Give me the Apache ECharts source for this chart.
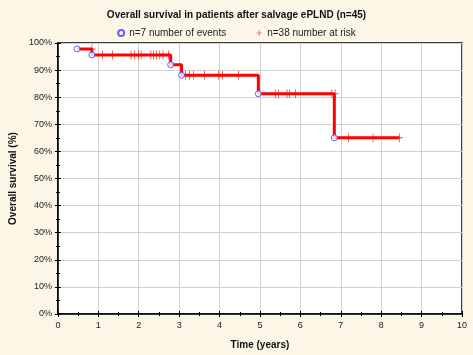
<!DOCTYPE html>
<html>
<head>
<meta charset="utf-8">
<script src="https://cdn.jsdelivr.net/npm/echarts@6/dist/echarts.min.js"></script>
<style>
  html, body { margin: 0; padding: 0; background: #fbf6e6; }
  #km { width: 473px; height: 355px; }
</style>
</head>
<body>
<div id="km"></div>
<script>
// survival step curve (time in years, survival in %)
var curveTimes = [0.47, 0.84, 2.79, 3.06, 4.96, 6.84, 8.45];
var curveSurv  = [97.8, 95.6, 92.0, 88.1, 81.3, 65.0, 65.0];

// events (open circles)
var eventTimes = [0.47, 0.84, 2.79, 3.06, 4.96, 6.84];
var eventSurv  = [97.8, 95.6, 92.0, 88.1, 81.3, 65.0];

// censored patients (crosses)
var censorTimes = [0.84,
  1.10, 1.35, 1.81, 1.90, 1.99, 2.06, 2.30, 2.37, 2.44, 2.52, 2.60, 2.74,
  3.16, 3.26, 3.36, 3.63, 3.98, 4.07, 4.47,
  5.38, 5.46, 5.67, 5.73, 5.88, 6.78, 6.86,
  7.19, 7.80, 8.45];
var censorSurv = [97.8,
  95.6, 95.6, 95.6, 95.6, 95.6, 95.6, 95.6, 95.6, 95.6, 95.6, 95.6, 95.6,
  88.1, 88.1, 88.1, 88.1, 88.1, 88.1, 88.1,
  81.3, 81.3, 81.3, 81.3, 81.3, 81.3, 81.3,
  65.0, 65.0, 65.0];

var titleText = 'Overall survival in patients after salvage ePLND (n=45)';
var eventName = 'n=7 number of events';
var censorName = 'n=38 number at risk';

function zip(a, b) {
  return a.map(function (v, i) { return [v, b[i]]; });
}

var crossPath = 'path://M4,0 H5 V4 H9 V5 H5 V9 H4 V5 H0 V4 H4 Z';

var chart = echarts.init(document.getElementById('km'), null, { renderer: 'canvas' });

// small inward ticks on every side of the box
var boxTick = { show: true, inside: true, length: 3, lineStyle: { color: '#000', width: 1 } };
var boxMinor = { show: true, splitNumber: 2, length: 2, lineStyle: { color: '#000', width: 1 } };

var option = {
  backgroundColor: '#fbf6e6',
  animation: false,
  textStyle: { fontFamily: 'Liberation Sans, Arial, sans-serif' },
  title: {
    text: titleText,
    left: 'center',
    top: 5,
    textStyle: { fontSize: 10, fontWeight: 'bold', color: '#111' }
  },
  legend: {
    top: 23,
    left: 'center',
    itemWidth: 6,
    itemHeight: 6,
    itemGap: 30,
    textStyle: { fontSize: 10, color: '#222' },
    data: [
      { name: eventName, icon: 'circle' },
      { name: censorName, icon: crossPath }
    ]
  },
  grid: {
    left: 57, right: 11, top: 43, bottom: 41,
    show: true,
    backgroundColor: '#ffffff',
    borderColor: '#000',
    borderWidth: 1.5
  },
  xAxis: [{
    type: 'value',
    min: 0, max: 10, interval: 1,
    name: 'Time (years)',
    nameLocation: 'middle',
    nameGap: 26,
    nameTextStyle: { fontSize: 10, fontWeight: 'bold', color: '#111' },
    axisLine: { show: true, lineStyle: { color: '#000', width: 1.5 } },
    axisTick: boxTick,
    minorTick: boxMinor,
    axisLabel: { fontSize: 9, color: '#222', margin: 7 },
    splitLine: { show: true, lineStyle: { color: '#d0d0d0', width: 1 } }
  }, {
    type: 'value',
    position: 'top',
    min: 0, max: 10, interval: 1,
    axisLine: { show: false },
    axisTick: boxTick,
    minorTick: boxMinor,
    axisLabel: { show: false },
    splitLine: { show: false }
  }],
  yAxis: [{
    type: 'value',
    min: 0, max: 100, interval: 10,
    name: 'Overall survival (%)',
    nameLocation: 'middle',
    nameGap: 29,
    nameTextStyle: { fontSize: 10, fontWeight: 'bold', color: '#111' },
    axisLine: { show: true, lineStyle: { color: '#000', width: 1.5 } },
    axisTick: boxTick,
    minorTick: boxMinor,
    axisLabel: { fontSize: 9, color: '#222', margin: 6, formatter: '{value}%' },
    splitLine: { show: true, lineStyle: { color: '#d0d0d0', width: 1 } }
  }, {
    type: 'value',
    position: 'right',
    min: 0, max: 100, interval: 10,
    axisLine: { show: false },
    axisTick: boxTick,
    minorTick: boxMinor,
    axisLabel: { show: false },
    splitLine: { show: false }
  }],
  series: [
    {
      name: 'curve',
      type: 'line',
      step: 'end',
      data: zip(curveTimes, curveSurv),
      showSymbol: false,
      lineStyle: { color: '#ff0000', width: 3 },
      z: 2
    },
    {
      name: censorName,
      type: 'scatter',
      data: zip(censorTimes, censorSurv),
      symbol: crossPath,
      symbolSize: [7, 9],
      itemStyle: { color: '#ff0000' },
      z: 3
    },
    {
      name: eventName,
      type: 'scatter',
      data: zip(eventTimes, eventSurv),
      symbol: 'circle',
      symbolSize: 6,
      itemStyle: { color: '#ffffff', borderColor: '#3b3bff', borderWidth: 1 },
      z: 4
    }
  ]
};

chart.setOption(option);
</script>
</body>
</html>
